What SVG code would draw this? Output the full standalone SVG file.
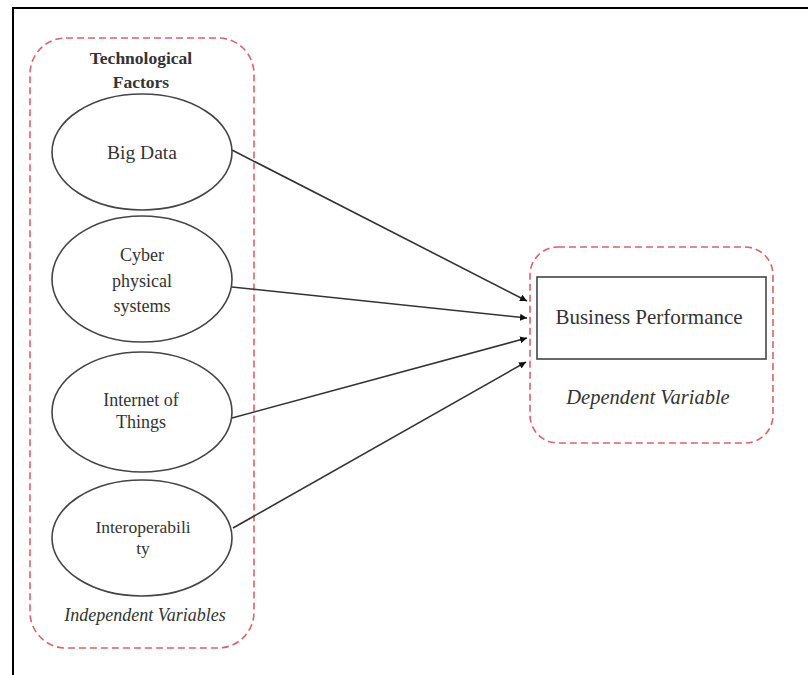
<svg xmlns="http://www.w3.org/2000/svg" width="808" height="675" viewBox="0 0 808 675">
<defs>
<style>
.frame{fill:none;stroke:#000;stroke-width:2}
.group{fill:none;stroke:#d9636b;stroke-width:1.6;stroke-dasharray:7 4}
.ell{fill:#fff;stroke:#444;stroke-width:1.6}
.box{fill:#fff;stroke:#444;stroke-width:1.6}
text{font-family:'Liberation Serif','Times New Roman','DejaVu Serif',serif;fill:#333;text-anchor:middle}
.it{font-style:italic}
.conn{stroke:#333;stroke-width:1.6;fill:none;marker-end:url(#ah)}
</style>
<marker id="ah" viewBox="0 0 10 10" refX="10" refY="5" markerWidth="7" markerHeight="7" markerUnits="userSpaceOnUse" orient="auto">
<path d="M0,0 L10,5 L0,10 z" fill="#111"/>
</marker>
</defs>
<rect width="808" height="675" fill="#fff"/>
<path class="frame" d="M13,675 V8 H808"/>
<g id="independent-group" font-family="Liberation Serif, serif">
<rect class="group" x="30" y="38" width="224" height="610" rx="36" ry="36"/>
<text x="141" y="64" font-size="17.5" font-weight="bold">Technological</text>
<text x="141" y="88" font-size="17.5" font-weight="bold">Factors</text>
<text class="it" x="145" y="621" font-size="18">Independent Variables</text>
</g>
<g id="dependent-group" font-family="Liberation Serif, serif">
<rect class="group" x="530" y="247" width="243" height="196" rx="28" ry="28"/>
<text class="it" x="648" y="404" font-size="20.5">Dependent Variable</text>
</g>
<g id="connectors">
<line class="conn" x1="232" y1="150" x2="527" y2="301"/>
<line class="conn" x1="232" y1="287" x2="527" y2="318"/>
<line class="conn" x1="232" y1="418" x2="527" y2="338"/>
<line class="conn" x1="233" y1="528" x2="526" y2="362"/>
</g>
<g id="big-data" font-family="Liberation Serif, serif">
<ellipse class="ell" cx="142" cy="152" rx="90" ry="58"/>
<text x="142" y="159" font-size="19.5">Big Data</text>
</g>
<g id="cyber-physical-systems" font-family="Liberation Serif, serif">
<ellipse class="ell" cx="142" cy="279" rx="90" ry="63"/>
<text x="142" y="261" font-size="18">Cyber</text>
<text x="142" y="287" font-size="18">physical</text>
<text x="142" y="312" font-size="18">systems</text>
</g>
<g id="internet-of-things" font-family="Liberation Serif, serif">
<ellipse class="ell" cx="142" cy="412" rx="90" ry="60"/>
<text x="141" y="406" font-size="18">Internet of</text>
<text x="141" y="428" font-size="18">Things</text>
</g>
<g id="interoperability" font-family="Liberation Serif, serif">
<ellipse class="ell" cx="142" cy="538" rx="90" ry="58"/>
<text x="143" y="533" font-size="17.5">Interoperabili</text>
<text x="143" y="554" font-size="17.5">ty</text>
</g>
<g id="business-performance" font-family="Liberation Serif, serif">
<rect class="box" x="537" y="277" width="229" height="82"/>
<text x="649" y="324" font-size="21">Business Performance</text>
</g>
</svg>
